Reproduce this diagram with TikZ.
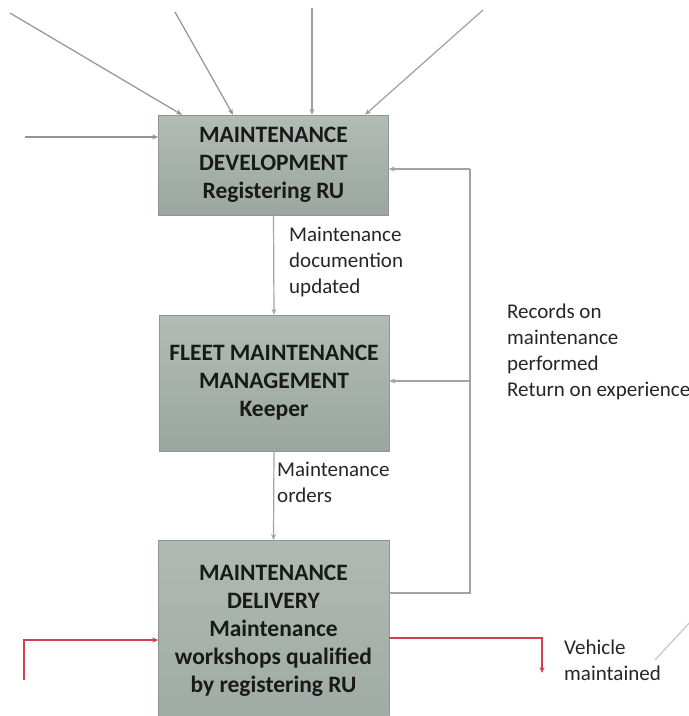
\documentclass[tikz,border=0pt]{standalone}
\usepackage{fontspec}
\setmainfont{Carlito}
\usepackage{tikz}
\usetikzlibrary{arrows.meta, positioning, shadings}

\definecolor{boxtop}{HTML}{B2BCB5}
\definecolor{boxbot}{HTML}{9AA69F}
\definecolor{boxline}{HTML}{8E9891}
\definecolor{flowgray}{HTML}{A3A3A3}
\definecolor{flowred}{HTML}{D0404E}

\tikzset{
  procbox/.style={draw=boxline, top color=boxtop, bottom color=boxbot,
    minimum width=230pt, align=center, inner sep=2pt,
    font=\fontsize{23.5}{28}\selectfont\bfseries, text=black!90},
  flowlbl/.style={anchor=west, align=left, inner sep=2pt,
    font=\fontsize{21}{26}\selectfont, text=black!85},
  flow/.style={draw=flowgray, line width=1.2pt, -{Stealth[length=6pt,width=5pt]}},
  plainflow/.style={draw=flowgray, line width=1.2pt},
  redflow/.style={draw=flowred, line width=1.2pt, -{Stealth[length=6pt,width=5pt]}}
}

\begin{document}
\begin{tikzpicture}[x=1pt,y=-1pt]

  \useasboundingbox (0,0) rectangle (689,716);
  \clip (0,0) rectangle (689,716);

  % --- Process boxes (absolute coordinates) ---
  \node[procbox, minimum height=100pt] (dev) at (273.5,165)
    {MAINTENANCE\\DEVELOPMENT\\Registering RU};
  \node[procbox, minimum height=136pt] (fleet) at (274,383)
    {FLEET MAINTENANCE\\MANAGEMENT\\Keeper};
  % runs past the lower edge of the picture, so no bottom side
  \node[procbox, draw=none, anchor=north, minimum height=240pt, text depth=63pt,
    top color=boxtop!90!boxbot, bottom color=boxbot] (delivery) at (273.5,540)
    {MAINTENANCE\\DELIVERY\\Maintenance\\workshops qualified\\by registering RU};
  \draw[boxline] (delivery.south west) -- (delivery.north west)
    -- (delivery.north east) -- (delivery.south east);

  % --- Inputs from above and left into the development box ---
  \coordinate (in1) at (10,13);
  \coordinate (in2) at (175,12);
  \coordinate (in3) at (312,8);
  \coordinate (in4) at (483,10);
  \coordinate (inL) at (25,137);
  \draw[flow, draw=gray!85] (in1) -- (dev.north west -| 182,0);
  \draw[flow, draw=gray!85] (in2) -- (dev.north west -| 233,0);
  \draw[flow, draw=gray!75] (in3) -- (dev.north west -| 312,0);
  \draw[flow, draw=gray!75] (in4) -- (dev.north west -| 365,0);
  \draw[flow, draw=gray!85] (inL) -- (dev.west |- inL);

  % --- Downward flows ---
  \draw[flow] (dev.south) -- (fleet.north);
  \node[flowlbl] (doclbl) at (287,262) {Maintenance\\documention\\updated};
  \draw[flow] (fleet.south) -- (delivery.north);
  \node[flowlbl] (ordlbl) at (275,482) {Maintenance\\orders};

  % --- Feedback loop on the right ---
  \coordinate (fbLow) at (470,593);
  \coordinate (fbMid) at (470,381);
  \coordinate (fbTop) at (470,169);
  \draw[plainflow] (delivery.east |- fbLow) -- (fbLow) -- (fbTop);
  \draw[flow] (fbTop) -- (dev.east |- fbTop);
  \draw[flow] (fbMid) -- (fleet.east |- fbMid);
  \node[flowlbl] (reclbl) at (505,352)
    {Records on\\maintenance\\performed\\Return on experience};

  % --- Vehicle flow (red) ---
  \coordinate (vIn) at (24,680);
  \coordinate (vInC) at (24,640);
  \coordinate (vOutC) at (542,638);
  \coordinate (vOut) at (542,673);
  \draw[redflow] (vIn) -- (vInC) -- (delivery.west |- vInC);
  \draw[redflow] (delivery.east |- vOutC) -- (vOutC) -- (vOut);
  \node[flowlbl] (vehlbl) at (562,660) {Vehicle\\maintained};

  % --- Line leaving to the right edge ---
  \coordinate (diagA) at (655,660);
  \coordinate (diagB) at (692,620);
  \draw[plainflow, draw=gray!45] (diagA) -- (diagB);

\end{tikzpicture}
\end{document}
